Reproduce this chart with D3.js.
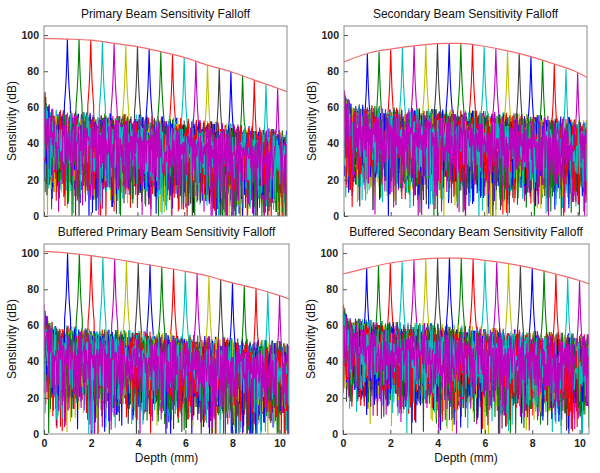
<!DOCTYPE html>
<html>
<head>
<meta charset="utf-8">
<script src="https://cdn.jsdelivr.net/npm/d3@7"></script>
<style>
  body { margin: 0; background: #fff; }
  text { font-family: "Liberation Sans", Arial, sans-serif; }
</style>
</head>
<body>
<div id="chart"></div>
<script>
// Mirror depths (mm) where each trace peaks
const peakDepths = [1, 1.5, 2, 2.5, 3, 3.5, 4, 4.5, 5, 5.5, 6, 6.5, 7, 7.5, 8, 8.5, 9, 9.5, 10];

// Peak heights (dB), one list per panel
const primaryPeaks = [97.8, 97.8, 97.2, 96.3, 95.4, 94.1, 93.6, 92.3, 90.8, 89.0, 87.7, 85.6, 83.4, 81.9, 79.7, 77.9, 75.1, 72.9, 70.6];
const secondaryPeaks = [89.5, 90.8, 92.1, 93.0, 93.9, 94.5, 95.2, 95.6, 95.2, 94.8, 93.6, 92.6, 91.2, 89.9, 88.0, 86.2, 83.8, 81.2, 79.2];
const bufPrimaryPeaks = [100.0, 99.4, 98.6, 97.6, 96.7, 95.4, 94.5, 93.6, 92.3, 91.2, 89.9, 88.7, 87.2, 85.4, 83.5, 82.0, 80.4, 78.4, 76.5];
const bufSecondaryPeaks = [91.7, 93.0, 94.5, 95.4, 96.3, 96.7, 97.2, 97.6, 97.2, 96.7, 96.0, 94.9, 94.2, 93.0, 91.7, 90.3, 88.4, 86.2, 84.8];

// Falloff envelope (red curve)
const envDepths = [0, 1, 2, 3, 4, 5, 6, 7, 8, 9, 10, 10.4];
const primaryEnv = [98.2, 97.8, 97.2, 95.4, 93.6, 90.8, 87.7, 83.4, 79.7, 75.1, 70.6, 68.7];
const secondaryEnv = [85.2, 89.8, 92.3, 94.0, 95.3, 95.4, 93.8, 91.3, 88.1, 84.0, 79.3, 76.6];
const bufPrimaryEnv = [100.9, 100.0, 98.6, 96.7, 94.5, 92.3, 89.9, 87.2, 83.5, 80.4, 76.5, 74.7];
const bufSecondaryEnv = [88.4, 91.7, 94.5, 96.3, 97.2, 97.2, 96.0, 94.2, 91.7, 88.4, 84.8, 82.9];

// Top of the noise band (dB) at these depths
const floorDepths = [0, 0.15, 0.4, 2, 4, 6, 8, 10.4];
const primaryFloor = [71, 63, 59, 57, 56, 54, 51, 47];
const secondaryFloor = [71, 65, 62, 60, 59, 58, 56, 54];
const bufPrimaryFloor = [73, 65, 61, 58, 57, 55, 53, 51];
const bufSecondaryFloor = [72, 67, 64, 62, 61, 59, 57, 55];

// Noise drops below the band top (dB), two hand-read lists that are summed
const noiseA = [3, 9, 1, 14, 6, 0, 11, 4, 22, 7, 2, 16, 5, 9, 0, 27, 8, 3, 12, 1,
  6, 19, 4, 10, 2, 7, 24, 0, 13, 5, 8, 3, 17, 1, 9, 30, 6, 2, 11, 4,
  15, 7, 0, 20, 3, 8, 12, 1, 5, 26, 9, 2, 14, 6, 0, 10, 18, 3, 7, 1,
  13, 4, 23, 8, 2, 11, 5, 0, 16, 9, 3, 28, 6, 1, 12, 4, 8, 21, 2, 10,
  5, 0, 15, 7, 3, 19, 1, 9, 4, 25, 6, 11, 2, 8, 0, 14, 5];
const noiseB = [5, 1, 8, 0, 12, 3, 6, 18, 2, 9, 4, 0, 14, 7, 1, 22, 5, 10, 3, 0,
  8, 16, 2, 6, 11, 1, 4, 25, 7, 0, 9, 3, 13, 5, 1, 19, 8, 2, 6, 0,
  10, 15, 4, 1, 7, 21, 3, 9, 0, 12, 5, 2, 17, 6, 1, 8, 4, 23, 0, 10,
  3, 7, 14, 2, 5, 0, 11, 20, 6, 1, 9, 4, 16, 3, 0, 8, 13, 2, 24, 7,
  5, 1, 10, 4, 18, 0, 6, 12, 3];
const noiseScale = 1.2;

// Drop from the peak top at each sample away from the peak
const peakSkirt = [0, 12, 21, 27, 32, 36];

const yTicks = [0, 20, 40, 60, 80, 100];
const xTicks = [0, 2, 4, 6, 8, 10];
const colors = ['#0000ff', '#008000', '#ff0000', '#00bfbf', '#bf00bf', '#bfbf00', '#404040'];

const panels = [
  {title: 'Primary Beam Sensitivity Falloff', peaks: primaryPeaks, env: primaryEnv, floor: primaryFloor, x0: 44, x1: 287, y0: 26, y1: 216, xlab: false},
  {title: 'Secondary Beam Sensitivity Falloff', peaks: secondaryPeaks, env: secondaryEnv, floor: secondaryFloor, x0: 344, x1: 587, y0: 26, y1: 216, xlab: false},
  {title: 'Buffered Primary Beam Sensitivity Falloff', peaks: bufPrimaryPeaks, env: bufPrimaryEnv, floor: bufPrimaryFloor, x0: 44, x1: 289, y0: 244, y1: 434, xlab: true},
  {title: 'Buffered Secondary Beam Sensitivity Falloff', peaks: bufSecondaryPeaks, env: bufSecondaryEnv, floor: bufSecondaryFloor, x0: 343, x1: 589, y0: 244, y1: 434, xlab: true}
];

const width = 600, height = 473;
const step = 0.025;
const depths = d3.range(0, 417).map(k => k * step);

const svg = d3.select('#chart').append('svg')
  .attr('width', width)
  .attr('height', height)
  .attr('viewBox', [0, 0, width, height]);

// soften the traces a little, like the scanned figure
svg.append('defs').append('filter').attr('id', 'soft')
  .append('feGaussianBlur').attr('stdDeviation', 0.4);

panels.forEach((p, pi) => {
  const x = d3.scaleLinear().domain([0, 10.4]).range([p.x0, p.x1]);
  const y = d3.scaleLinear().domain([0, 105]).range([p.y1, p.y0]);
  const floor = d3.scaleLinear().domain(floorDepths).range(p.floor);
  const g = svg.append('g');

  g.append('clipPath').attr('id', 'clip' + pi)
    .append('rect')
    .attr('x', p.x0).attr('y', p.y0)
    .attr('width', p.x1 - p.x0).attr('height', p.y1 - p.y0);

  const line = d3.line()
    .x(d => x(d[0]))
    .y(d => y(d[1]));

  // One trace per mirror position
  const traces = peakDepths.map((pd, i) => {
    const pk = Math.round(pd / step);
    return depths.map((d, k) => {
      const drop = noiseA[(k + i * 13 + pi * 7) % noiseA.length]
        + noiseB[(k * 2 + i * 31 + pi * 5) % noiseB.length];
      let v = floor(d) - drop * noiseScale;
      const off = Math.abs(k - pk);
      if (off < peakSkirt.length) v = Math.max(v, p.peaks[i] - peakSkirt[off]);
      return [d, Math.max(v, -2)];
    });
  });

  const plot = g.append('g').attr('clip-path', `url(#clip${pi})`);
  plot.append('g')
    .attr('filter', 'url(#soft)')
    .selectAll('path.trace')
    .data(traces)
    .enter().append('path')
    .attr('class', 'trace')
    .attr('d', line)
    .attr('fill', 'none')
    .attr('stroke', (d, i) => colors[i % colors.length])
    .attr('stroke-width', 1.1);

  // Falloff envelope
  plot.append('path')
    .datum(envDepths.map((d, i) => [d, p.env[i]]))
    .attr('d', line.curve(d3.curveMonotoneX))
    .attr('fill', 'none')
    .attr('stroke', '#f26a6a')
    .attr('stroke-width', 1.2);

  // Axes box
  g.append('rect')
    .attr('x', p.x0).attr('y', p.y0)
    .attr('width', p.x1 - p.x0).attr('height', p.y1 - p.y0)
    .attr('fill', 'none')
    .attr('stroke', '#8a8a8a');

  const yAxis = g.append('g')
    .attr('transform', `translate(${p.x0},0)`)
    .call(d3.axisLeft(y).tickValues(yTicks).tickSize(-4).tickPadding(5));
  yAxis.select('.domain').remove();
  yAxis.selectAll('line').attr('stroke', '#555');
  yAxis.selectAll('text')
    .attr('font-size', 10.5).attr('font-weight', 'bold').attr('fill', '#222');

  const xAxis = g.append('g')
    .attr('transform', `translate(0,${p.y1})`)
    .call(d3.axisBottom(x).tickValues(xTicks).tickSize(-4).tickPadding(6));
  xAxis.select('.domain').remove();
  xAxis.selectAll('line').attr('stroke', '#555');
  xAxis.selectAll('text')
    .attr('font-size', 10.5).attr('font-weight', 'bold').attr('fill', '#222')
    .style('display', p.xlab ? null : 'none');

  g.append('text')
    .attr('x', (p.x0 + p.x1) / 2)
    .attr('y', p.y0 - 8)
    .attr('text-anchor', 'middle')
    .attr('font-size', 12)
    .attr('fill', '#111')
    .text(p.title);

  g.append('text')
    .attr('transform', `translate(${p.x0 - 28},${(p.y0 + p.y1) / 2}) rotate(-90)`)
    .attr('text-anchor', 'middle')
    .attr('font-size', 12)
    .attr('fill', '#111')
    .text('Sensitivity (dB)');

  if (p.xlab) {
    g.append('text')
      .attr('x', (p.x0 + p.x1) / 2)
      .attr('y', p.y1 + 28)
      .attr('text-anchor', 'middle')
      .attr('font-size', 12)
      .attr('fill', '#111')
      .text('Depth (mm)');
  }
});
</script>
</body>
</html>
